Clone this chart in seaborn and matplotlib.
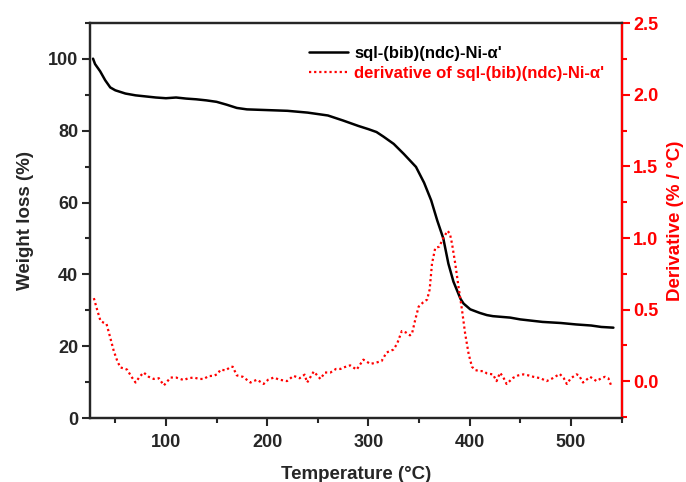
import matplotlib
matplotlib.use("Agg")
import matplotlib.pyplot as plt
import seaborn as sns
import pandas as pd
from matplotlib.lines import Line2D

# ---- data ----
temp_w = [28, 30, 35, 40, 45, 50, 60, 70, 80, 90, 100, 110, 120, 130, 140, 150,
          160, 170, 180, 200, 220, 240, 260, 275, 290, 300, 308, 315, 325, 335,
          347, 355, 362, 368, 374, 379, 384, 387.5, 391, 394, 400.6, 410, 417,
          423, 440, 450, 472, 490, 505, 520, 530, 542]
weight = [100, 98.5, 96.5, 94, 92, 91.2, 90.3, 89.8, 89.5, 89.2, 89.0, 89.2,
          88.9, 88.7, 88.4, 88.0, 87.2, 86.3, 85.9, 85.7, 85.5, 85.0, 84.2, 82.8,
          81.3, 80.4, 79.6, 78.3, 76.3, 73.5, 69.9, 65.5, 60.6, 55, 50, 43, 38,
          35.6, 33.2, 31.9, 30.3, 29.3, 28.7, 28.4, 28.0, 27.5, 26.8, 26.5, 26.1,
          25.8, 25.4, 25.2]

temp_d = [28.8, 32, 35.4, 38, 41.3, 44, 48.5, 52, 55, 58, 61.7, 66, 70, 74, 78,
          83, 88, 93, 98, 104.6, 110, 117.6, 122, 127.5, 133, 137.5, 142, 147.5,
          151, 154, 159, 164, 166, 170, 176, 183.5, 190, 196.5, 201, 206.5, 212,
          219.6, 226, 232, 237, 239.5, 246, 252.6, 257, 262.5, 268, 272.4, 275.3,
          282, 288.4, 295, 302, 308, 313, 318, 324.6, 328.3, 333, 337, 341, 343,
          346.3, 349.6, 354, 358, 360.5, 362.8, 366, 370, 374, 378.2, 380.5,
          382.6, 385.8, 389, 392.4, 395.6, 399, 402.3, 405.6, 410, 413.5, 417,
          420, 423, 426.6, 430, 433, 436.5, 443, 448, 453, 458, 463, 470, 476,
          482, 489, 493, 496, 500, 505.6, 508, 512, 519, 525.3, 530, 533.6, 537,
          540]
deriv = [0.58, 0.50, 0.42, 0.41, 0.40, 0.33, 0.21, 0.14, 0.095, 0.09, 0.08, 0.03,
         -0.01, 0.03, 0.06, 0.03, 0.015, 0.02, -0.03, 0.025, 0.025, 0.007, 0.02,
         0.025, 0.015, 0.015, 0.035, 0.037, 0.05, 0.08, 0.075, 0.10, 0.10, 0.04,
         0.03, -0.01, 0.01, -0.02, 0.01, 0.025, 0.01, 0.0, 0.037, 0.02, 0.045,
         -0.01, 0.067, 0.015, 0.06, 0.06, 0.085, 0.085, 0.095, 0.11, 0.08, 0.15,
         0.12, 0.13, 0.14, 0.2, 0.22, 0.26, 0.35, 0.34, 0.32, 0.33, 0.43, 0.52,
         0.55, 0.57, 0.64, 0.82, 0.93, 0.94, 1.0, 1.05, 1.03, 0.96, 0.82, 0.66,
         0.50, 0.33, 0.19, 0.10, 0.077, 0.07, 0.07, 0.054, 0.05, 0.047, 0.0,
         0.058, 0.03, -0.02, 0.023, 0.04, 0.047, 0.04, 0.03, 0.02, 0.0, 0.02,
         0.05, 0.02, -0.02, 0.02, 0.047, 0.04, -0.01, 0.03, 0.0, 0.02, 0.03,
         0.02, -0.035]

label_w = "sql-(bib)(ndc)-Ni-\u03b1'"
label_d = "derivative of sql-(bib)(ndc)-Ni-\u03b1'"

x_ticks = [100, 200, 300, 400, 500]
yl_ticks = [0, 20, 40, 60, 80, 100]
yr_ticks = [0.0, 0.5, 1.0, 1.5, 2.0, 2.5]

# ---- styling ----
sns.set_style("ticks")
plt.rcParams["font.family"] = ["Liberation Sans", "DejaVu Sans"]
plt.rcParams["font.weight"] = "bold"
plt.rcParams["axes.labelweight"] = "bold"

RED = "#ff0000"

fig = plt.figure(figsize=(6.86, 4.82), dpi=100)
ax = fig.add_axes([90 / 686, 1 - 418.3 / 482, (621.5 - 90) / 686, (418.3 - 22.7) / 482])
ax2 = ax.twinx()

dfw = pd.DataFrame({"T": temp_w, "W": weight})
dfd = pd.DataFrame({"T": temp_d, "D": deriv})

sns.lineplot(data=dfw, x="T", y="W", ax=ax, color="black", lw=1.8, legend=False)
sns.lineplot(data=dfd, x="T", y="D", ax=ax2, color=RED, lw=1.6,
             linestyle=(0, (1, 1.3)), legend=False)

ax.set_xlim(25, 550)
ax.set_ylim(0, 110)
ax2.set_ylim(-0.26, 2.505)

ax.set_xticks(x_ticks)
ax.set_xticks([50, 150, 250, 350, 450, 550], minor=True)
ax.set_yticks(yl_ticks)
ax.set_yticks([10, 30, 50, 70, 90, 110], minor=True)
ax2.set_yticks(yr_ticks)
ax2.set_yticks([-0.25, 0.25, 0.75, 1.25, 1.75, 2.25], minor=True)

for a in (ax, ax2):
    for s in a.spines.values():
        s.set_linewidth(1.6)
        s.set_visible(True)
ax2.spines["right"].set_color(RED)

ax.tick_params(axis="x", which="major", direction="out", length=6, width=1.5,
               labelsize=13, pad=5, top=False)
ax.tick_params(axis="y", which="major", direction="out", length=6, width=1.5,
               labelsize=13, pad=2.5, right=False)
ax.tick_params(axis="both", which="minor", direction="out", length=3.5, width=1.5,
               top=False, right=False)
ax2.tick_params(axis="y", which="major", direction="out", length=6, width=1.5,
                labelsize=13, pad=2.5, colors=RED)
ax2.tick_params(axis="y", which="minor", direction="out", length=3.5, width=1.5,
                colors=RED)
for lab in ax.get_xticklabels() + ax.get_yticklabels() + ax2.get_yticklabels():
    lab.set_fontweight("bold")

ax.set_xlabel("Temperature (\u00b0C)", fontsize=13.5, fontweight="bold", labelpad=11)
ax.set_ylabel("Weight loss (%)", fontsize=13.5, fontweight="bold", labelpad=10)
ax2.set_ylabel("Derivative (% / \u00b0C)", fontsize=13.5, fontweight="bold", color=RED,
               labelpad=6)

handles = [Line2D([], [], color="black", lw=1.8),
           Line2D([], [], color=RED, lw=1.6, linestyle=(0, (1, 1.3)))]
leg = ax.legend(handles, [label_w, label_d], loc="upper left",
                bbox_to_anchor=(301 / 686, 1 - 38 / 482),
                bbox_transform=fig.transFigure, frameon=False,
                prop={"weight": "bold", "size": 12}, handlelength=2.3,
                handletextpad=0.4, borderpad=0, labelspacing=0.3)
leg.get_texts()[0].set_color("black")
leg.get_texts()[1].set_color(RED)

fig.savefig("out.png", dpi=100)
